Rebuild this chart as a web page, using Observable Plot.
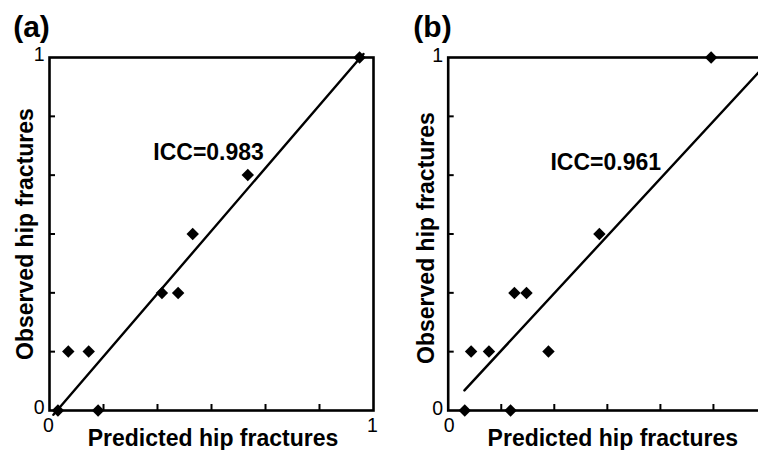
<!DOCTYPE html>
<html>
<head>
<meta charset="utf-8">
<script src="https://cdn.jsdelivr.net/npm/d3@7"></script>
<script src="https://cdn.jsdelivr.net/npm/@observablehq/plot@0.6"></script>
<style>
  html, body { margin: 0; padding: 0; background: #fff; }
  #wrap { position: relative; width: 758px; height: 450px; overflow: hidden; background: #fff; }
  #wrap > div, #wrap > svg { position: absolute; top: 0; }
</style>
</head>
<body>
<div id="wrap"></div>
<script>
// ---- data ----
const panelLabels = ["(a)", "(b)"];
const iccLabels = ["ICC=0.983", "ICC=0.961"];
const xTitle = "Predicted hip fractures";
const yTitle = "Observed hip fractures";
const tickLabelsA = [0, 1];      // panel (a): both ends labelled
const tickLabelsBx = [0];        // panel (b): the "1" lies off the picture
const tickLabelsBy = [0, 1];
const minorTicks = [0.1667, 0.3333, 0.5, 0.6667, 0.8333];

const predictedA = [0.026, 0.150, 0.058, 0.121, 0.347, 0.397, 0.442, 0.612, 0.957];
const observedA  = [0, 0, 0.167, 0.167, 0.333, 0.333, 0.5, 0.667, 1];
const predictedB = [0.052, 0.196, 0.072, 0.128, 0.208, 0.246, 0.315, 0.475, 0.826];
const observedB  = [0, 0, 0.167, 0.167, 0.333, 0.333, 0.167, 0.5, 1];

const fitA_x = [0.012, 0.969];
const fitA_y = [-0.012, 1.01];
const fitB_x = [0.051, 1.0];
const fitB_y = [0.057, 0.982];

const font = "'Liberation Sans', Arial, Helvetica, sans-serif";

function panel({label, icc, px, py, fx, fy, xLabs, yLabs, width, mLeft, mRight, iccPos, yLabDx, yLabDy, xLabDx, xLabDy, yTitleDx, yTitleDy, xTitleDx, labDx}) {
  const height = 450, mTop = 57, mBottom = 40;
  const pw = width - mLeft - mRight, ph = height - mTop - mBottom;
  const pts = px.map((x, i) => ({x, y: py[i]}));
  const fit = fx.map((x, i) => ({x, y: fy[i]}));
  return Plot.plot({
    width, height,
    marginLeft: mLeft, marginRight: mRight, marginTop: mTop, marginBottom: mBottom,
    style: {fontFamily: font, fontSize: "19.5px", color: "#000", background: "#fff", overflow: "visible"},
    x: {domain: [0, 1], axis: null},
    y: {domain: [0, 1], axis: null},
    marks: [
      Plot.text(xLabs, {x: d => d, y: 0, text: d => String(d), dx: xLabDx, dy: xLabDy, fontSize: 19.5, textAnchor: "middle", lineAnchor: "top", fill: "#000"}),
      Plot.text(yLabs, {x: 0, y: d => d, text: d => String(d), dx: yLabDx, dy: yLabDy, fontSize: 19.5, textAnchor: "end", lineAnchor: "middle", fill: "#000"}),
      Plot.ruleX(minorTicks, {x: d => d, y1: 0, y2: 6 / ph, stroke: "#000", strokeWidth: 2}),
      Plot.ruleY(minorTicks, {y: d => d, x1: 0, x2: 6 / pw, stroke: "#000", strokeWidth: 2}),
      Plot.frame({stroke: "#000", strokeWidth: 2.6}),
      Plot.line(fit, {x: "x", y: "y", stroke: "#000", strokeWidth: 2.4}),
      Plot.dot(pts, {x: "x", y: "y", symbol: "diamond2", r: 5.6, fill: "#000", stroke: "none"}),
      Plot.text([icc], {x: iccPos[0], y: iccPos[1], text: d => d, fontSize: 23, fontWeight: "bold", textAnchor: "middle", lineAnchor: "middle", fill: "#000"}),
      Plot.text([yTitle], {frameAnchor: "left", text: d => d, rotate: -90, dx: yTitleDx, dy: yTitleDy, fontSize: 23, fontWeight: "bold", textAnchor: "middle", lineAnchor: "middle", fill: "#000"}),
      Plot.text([xTitle], {frameAnchor: "bottom", text: d => d, dx: xTitleDx, dy: 28.6, fontSize: 23, fontWeight: "bold", textAnchor: "middle", lineAnchor: "middle", fill: "#000"}),
      Plot.text([label], {frameAnchor: "top-left", text: d => d, dx: labDx, dy: -30, fontSize: 30, fontWeight: "bold", textAnchor: "middle", lineAnchor: "middle", fill: "#000"})
    ]
  });
}

const wrap = document.getElementById("wrap");

const a = panel({
  label: panelLabels[0], icc: iccLabels[0],
  px: predictedA, py: observedA, fx: fitA_x, fy: fitA_y,
  xLabs: tickLabelsA, yLabs: tickLabelsA,
  width: 380, mLeft: 49, mRight: 7, iccPos: [0.491, 0.731],
  yLabDx: -5, yLabDy: -3, xLabDx: -1, xLabDy: 7.5,
  yTitleDx: -23.5, yTitleDy: 0, xTitleDx: 1.5, labDx: -18
});
a.style.left = "0px";
wrap.appendChild(a);

const b = panel({
  label: panelLabels[1], icc: iccLabels[1],
  px: predictedB, py: observedB, fx: fitB_x, fy: fitB_y,
  xLabs: tickLabelsBx, yLabs: tickLabelsBy,
  width: 393, mLeft: 67.7, mRight: 7, iccPos: [0.495, 0.703],
  yLabDx: -5, yLabDy: -2, xLabDx: 1, xLabDy: 8,
  yTitleDx: -22, yTitleDy: 4, xTitleDx: 5.5, labDx: -15.7
});
b.style.left = "380px";
wrap.appendChild(b);
</script>
</body>
</html>
